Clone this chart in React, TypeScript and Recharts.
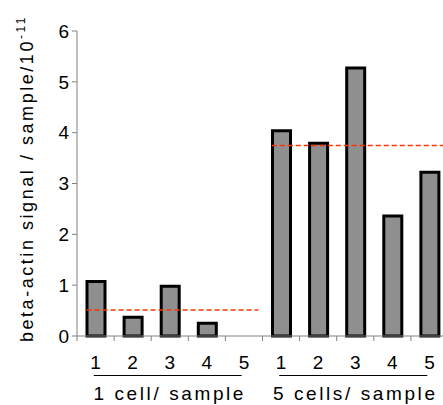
import { BarChart, Bar, XAxis, YAxis, ReferenceLine } from 'recharts';

const sampleLabels = ['1', '2', '3', '4', '5', '1', '2', '3', '4', '5'];
const signalValues = [1.07, 0.37, 0.98, 0.25, null, 4.04, 3.79, 5.27, 2.36, 3.22];
const groupLabels = ['1 cell/ sample', '5 cells/ sample'];
const groupCenters = [2.5, 7.5];
const groupMeans = [0.51, 3.75];
const meanSpans = [
  [0.26, 4.89],
  [5.25, 10],
];
const yTicks = [0, 1, 2, 3, 4, 5, 6];

// pos = centre of each sample slot on the numeric helper axis
const data = sampleLabels.map((sample, i) => ({ sample, pos: i + 0.5, signal: signalValues[i] }));

// slot boundaries (integers) get a tick mark, slot centres (x.5) get the sample label
const slotTicks = [...sampleLabels.map((_, i) => i), sampleLabels.length].flatMap((v) =>
  v < sampleLabels.length ? [v, v + 0.5] : [v]
);

const FONT = "'Liberation Sans', Arial, sans-serif";
const AXIS_GRAY = '#808080';

const YLabel = (props: any) => {
  const { viewBox } = props;
  const cy = viewBox.y + viewBox.height / 2 - 5;
  const x = 25;
  return (
    <text
      x={x}
      y={cy}
      transform={`rotate(-90, ${x}, ${cy})`}
      textAnchor='middle'
      fontFamily={FONT}
      fontSize={18}
      letterSpacing={2.55}
      fill='#000'
    >
      beta-actin signal / sample/10
      <tspan fontSize={12} dy={-8}>
        -11
      </tspan>
    </text>
  );
};

const SlotTick = (props: any) => {
  const { x, y, payload } = props;
  const v = payload.value;
  if (Number.isInteger(v)) {
    return <line x1={x} x2={x} y1={y} y2={y + 5} stroke={AXIS_GRAY} strokeWidth={1} />;
  }
  const gi = groupCenters.indexOf(v);
  return (
    <g>
      <text x={x} y={y + 33} textAnchor='middle' fontFamily={FONT} fontSize={19} fill='#000'>
        {sampleLabels[Math.floor(v)]}
      </text>
      {gi >= 0 && (
        <g>
          <line x1={x - 76} x2={x + 72} y1={y + 39.5} y2={y + 39.5} stroke='#000' strokeWidth={1.2} />
          <text
            x={x}
            y={y + 64}
            textAnchor='middle'
            fontFamily={FONT}
            fontSize={19}
            letterSpacing={2.6}
            fill='#000'
          >
            {groupLabels[gi]}
          </text>
        </g>
      )}
    </g>
  );
};

const App = () => {
  return (
    <div style={{ paddingLeft: 8, paddingTop: 8 }}>
      <style>{'html { overflow: hidden; } body { margin: 0; }'}</style>
      <BarChart
        width={445}
        height={397}
        data={data}
        margin={{ top: 23, right: 5, left: 0, bottom: 0 }}
      >
        <XAxis
          xAxisId='num'
          dataKey='pos'
          type='number'
          domain={[0, 10]}
          ticks={slotTicks}
          allowDataOverflow
          interval={0}
          tickLine={false}
          tickSize={0}
          tickMargin={0}
          height={69}
          stroke={AXIS_GRAY}
          tick={<SlotTick />}
        />
        <XAxis xAxisId='cat' dataKey='sample' hide height={0} />
        <YAxis
          domain={[0, 6]}
          ticks={yTicks}
          width={69}
          tickSize={5}
          tickMargin={3}
          stroke={AXIS_GRAY}
          tick={{ fill: '#000', fontSize: 19, fontFamily: FONT }}
          label={{ content: <YLabel /> }}
        />
        <Bar
          xAxisId='cat'
          dataKey='signal'
          fill='#8f8f8f'
          stroke='#000'
          strokeWidth={3}
          barSize={18}
          isAnimationActive={false}
        />
        {groupMeans.map((m, i) => (
          <ReferenceLine
            key={i}
            xAxisId='num'
            segment={[
              { x: meanSpans[i][0], y: m },
              { x: meanSpans[i][1], y: m },
            ]}
            stroke='#ff3300'
            strokeWidth={1.5}
            strokeDasharray='5 3'
            ifOverflow='visible'
          />
        ))}
      </BarChart>
    </div>
  );
};

export default App;
